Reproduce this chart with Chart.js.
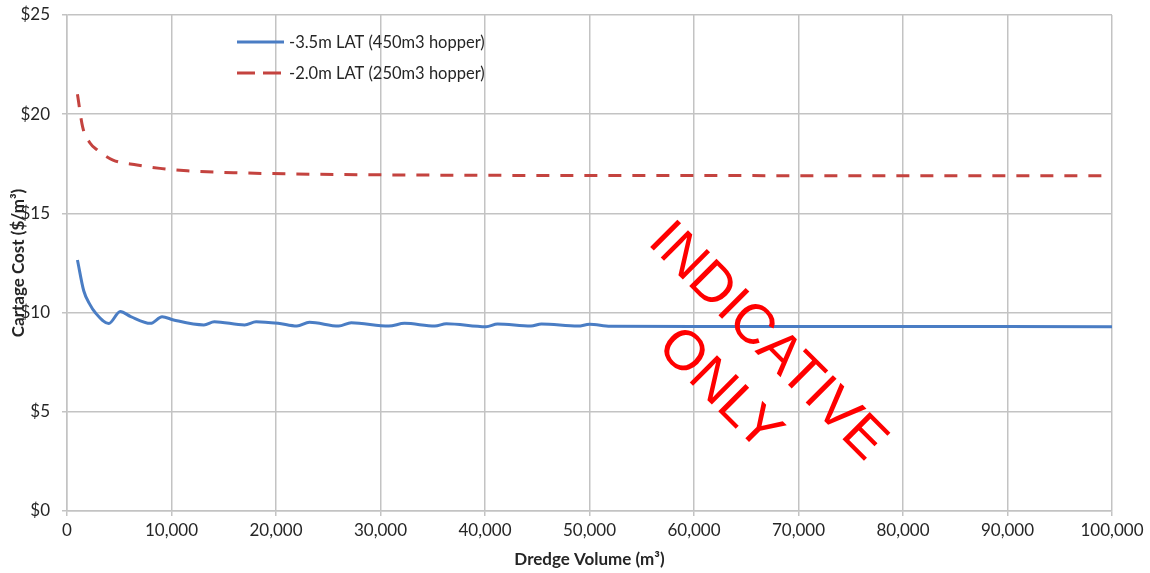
<!DOCTYPE html>
<html>
<head>
<meta charset="utf-8">
<title>Cartage Cost vs Dredge Volume</title>
<script src="https://cdn.jsdelivr.net/npm/chart.js@4.4.1/dist/chart.umd.min.js"></script>
<style>
  html, body { margin: 0; padding: 0; background: #fff; }
  #wrap { width: 1150px; height: 573px; }
</style>
</head>
<body>
<div id="wrap"><canvas id="costChart" width="1150" height="573"></canvas></div>
<script>
// values
const seriesNames = ['-3.5m LAT (450m3 hopper)', '-2.0m LAT (250m3 hopper)'];

const volume450 = [1000, 1600, 2200, 2700, 4000, 5100, 6100, 8000, 9100, 10200, 13100, 14100, 17000, 18100,
  20200, 22000, 23200, 26000, 27200, 30800, 32300, 35200, 36300, 40100, 41200, 44400, 45400, 48900, 50000,
  52000, 60000, 70000, 80000, 88000, 100000];
const cost450 = [12.65, 11.1, 10.4, 10.0, 9.45, 10.05, 9.8, 9.46, 9.79, 9.63, 9.38, 9.54, 9.38, 9.54,
  9.46, 9.32, 9.51, 9.32, 9.49, 9.32, 9.46, 9.32, 9.44, 9.29, 9.43, 9.32, 9.43, 9.32, 9.41,
  9.31, 9.30, 9.30, 9.30, 9.30, 9.29];

const volume250 = [1000, 1500, 2200, 2900, 4400, 6700, 8900, 11500, 16000, 21700, 31000, 40000, 50000,
  60000, 70000, 80000, 90000, 100000];
const cost250 = [21.0, 19.35, 18.55, 18.2, 17.69, 17.44, 17.27, 17.15, 17.05, 16.99, 16.94, 16.92, 16.91,
  16.91, 16.9, 16.9, 16.9, 16.9];

const xTicks = { min: 0, max: 100000, step: 10000 };
const yTicks = { min: 0, max: 25, step: 5 };

const FONT = 'Lato, "Open Sans", sans-serif';
const GRID = '#c3c3c3';
const INK = '#262626';

const toPoints = (xs, ys) => xs.map((x, i) => ({ x: x, y: ys[i] }));

// legend sits inside the plot area, top left
const insideLegend = {
  id: 'insideLegend',
  afterDraw(chart) {
    const ctx = chart.ctx;
    const rows = [42, 73];
    ctx.save();
    chart.data.datasets.forEach((ds, i) => {
      const y = rows[i];
      ctx.strokeStyle = ds.borderColor;
      ctx.lineWidth = ds.borderWidth;
      ctx.setLineDash(i === 1 ? [18, 8] : []);
      ctx.beginPath();
      ctx.moveTo(237, y);
      ctx.lineTo(284, y);
      ctx.stroke();
      ctx.setLineDash([]);
      ctx.fillStyle = INK;
      ctx.font = '16.5px ' + FONT;
      ctx.textBaseline = 'middle';
      ctx.fillText(ds.label, 289, y + 1);
    });
    ctx.restore();
  }
};

// red diagonal stamp
const stamp = {
  id: 'stamp',
  afterDraw(chart) {
    const ctx = chart.ctx;
    ctx.save();
    ctx.translate(743, 366);
    ctx.rotate(Math.PI / 4);
    ctx.fillStyle = '#ff0000';
    ctx.font = '56px "Liberation Sans", Arial, sans-serif';
    ctx.textAlign = 'center';
    ctx.textBaseline = 'middle';
    ctx.fillText('INDICATIVE', 0, -34);
    ctx.fillText('ONLY', 0, 34);
    ctx.restore();
  }
};

new Chart(document.getElementById('costChart'), {
  type: 'line',
  data: {
    datasets: [
      {
        label: seriesNames[0],
        data: toPoints(volume450, cost450),
        borderColor: '#4a7dc4',
        borderWidth: 3,
        pointRadius: 0,
        cubicInterpolationMode: 'monotone',
        fill: false
      },
      {
        label: seriesNames[1],
        data: toPoints(volume250, cost250),
        borderColor: '#c4433f',
        borderWidth: 3,
        borderDash: [13, 11],
        pointRadius: 0,
        cubicInterpolationMode: 'monotone',
        fill: false
      }
    ]
  },
  options: {
    responsive: false,
    animation: false,
    layout: { padding: { top: 15, right: 38, bottom: 0, left: 0 } },
    plugins: {
      legend: { display: false },
      tooltip: { enabled: false }
    },
    scales: {
      x: {
        type: 'linear',
        min: xTicks.min,
        max: xTicks.max,
        afterFit(s) { s.height = 62; },
        grid: { color: GRID, lineWidth: 1.5, tickLength: 5 },
        border: { color: GRID, width: 1.5 },
        ticks: {
          stepSize: xTicks.step,
          padding: 4,
          color: INK,
          font: { family: FONT, size: 17 },
          maxRotation: 0,
          callback: v => v.toLocaleString('en-US')
        },
        title: {
          display: true,
          text: 'Dredge Volume (m³)',
          color: INK,
          font: { family: FONT, size: 17, weight: 'bold' },
          padding: { top: 0, bottom: 3 }
        }
      },
      y: {
        min: yTicks.min,
        max: yTicks.max,
        afterFit(s) {
          s.width = 67;
          s.paddingTop = 0;
          s.paddingBottom = 0;
        },
        grid: { color: GRID, lineWidth: 1.5, tickLength: 5 },
        border: { color: GRID, width: 1.5 },
        ticks: {
          stepSize: yTicks.step,
          padding: 12,
          color: INK,
          font: { family: FONT, size: 17 },
          callback: v => '$' + v
        },
        title: {
          display: true,
          text: 'Cartage Cost ($/m³)',
          color: INK,
          font: { family: FONT, size: 17, weight: 'bold' },
          padding: { top: 8, bottom: 0 }
        }
      }
    }
  },
  plugins: [insideLegend, stamp]
});
</script>
</body>
</html>
